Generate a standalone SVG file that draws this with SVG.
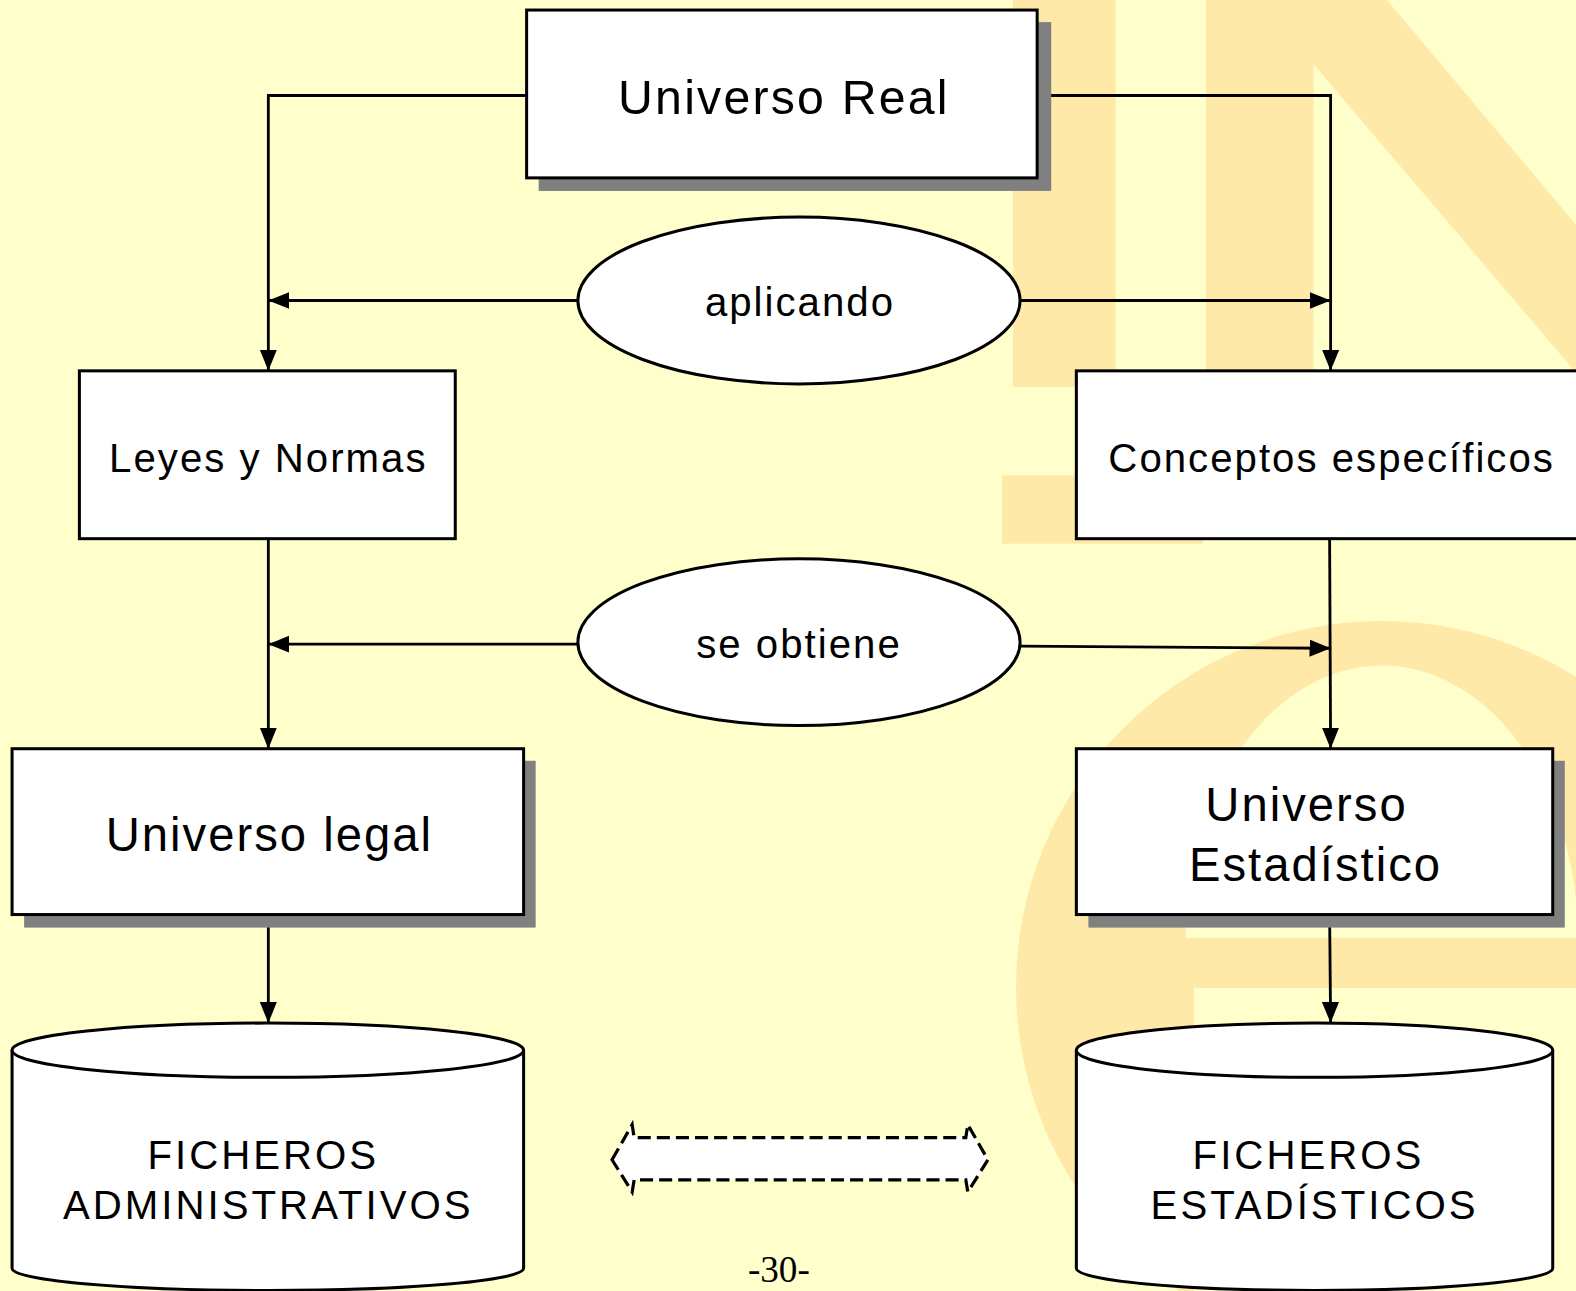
<svg xmlns="http://www.w3.org/2000/svg" width="1576" height="1291" viewBox="0 0 1576 1291">
<defs>
<style>
.bg{fill:#FFFFCC}
.wm{fill:#FFE9A8}
.box{fill:#FFFFFF;stroke:#000;stroke-width:3}
.shadow{fill:#808080}
.line{fill:none;stroke:#000;stroke-width:2.8}
.t{font-family:"Liberation Sans",Arial,sans-serif;fill:#000;text-anchor:middle}
.big{font-size:47px;letter-spacing:2px}
.real{font-size:48px;letter-spacing:2.2px}
.mid{font-size:40px;letter-spacing:2px}
.caps{font-size:40px;letter-spacing:3px}
</style>
<marker id="ah" markerUnits="userSpaceOnUse" markerWidth="24" markerHeight="20" refX="21" refY="8.5" orient="auto">
<path d="M0,0 L21,8.5 L0,17 z" fill="#000"/>
</marker>
</defs>
<rect class="bg" x="0" y="0" width="1576" height="1291"/>
<g id="page" transform="scale(1.005)">
<g id="watermark">
<rect class="wm" x="1008" y="0" width="102" height="385"/>
<polygon class="wm" points="1200,0 1380,0 1576,233 1576,380 1307,64 1307,370 1200,370"/>
<rect class="wm" x="997" y="473" width="200" height="68"/>
<circle class="wm" cx="1375" cy="982" r="364"/>
<path class="bg" d="M1180,933 A195,271 0 0 1 1570,933 Z"/>
<rect class="bg" x="1188" y="983" width="400" height="320"/>
</g>
<g id="connectors">
<path class="line" d="M524,95 H267 V369" marker-end="url(#ah)"/>
<path class="line" d="M1032,95 H1324 V369" marker-end="url(#ah)"/>
<path class="line" d="M575,299 H267" marker-end="url(#ah)"/>
<path class="line" d="M1015,299 H1324" marker-end="url(#ah)"/>
<path class="line" d="M267,536 V745" marker-end="url(#ah)"/>
<path class="line" d="M1323,536 L1324,745" marker-end="url(#ah)"/>
<path class="line" d="M575,641 H267" marker-end="url(#ah)"/>
<path class="line" d="M1015,643 L1324,645" marker-end="url(#ah)"/>
<path class="line" d="M267,910 V1018" marker-end="url(#ah)"/>
<path class="line" d="M1323,910 L1324,1018" marker-end="url(#ah)"/>
</g>
<g id="universo-real">
<rect class="shadow" x="536" y="22" width="510" height="168"/>
<rect class="box" x="524" y="10" width="508" height="167"/>
<text class="t real" x="780" y="113">Universo Real</text>
</g>
<g id="aplicando">
<ellipse class="box" cx="795" cy="299" rx="220" ry="83"/>
<text class="t mid" x="796" y="314">aplicando</text>
</g>
<g id="leyes-normas">
<rect class="box" x="79" y="369" width="374" height="167"/>
<text class="t mid" x="267" y="470">Leyes y Normas</text>
</g>
<g id="conceptos">
<rect class="box" x="1071" y="369" width="506" height="167"/>
<text class="t mid" x="1325" y="470">Conceptos específicos</text>
</g>
<g id="se-obtiene">
<ellipse class="box" cx="795" cy="639" rx="220" ry="83"/>
<text class="t mid" x="795" y="655">se obtiene</text>
</g>
<g id="universo-legal">
<rect class="shadow" x="24" y="757" width="509" height="166"/>
<rect class="box" x="12" y="745" width="509" height="165"/>
<text class="t big" x="268" y="847">Universo legal</text>
</g>
<g id="universo-estadistico">
<rect class="shadow" x="1083" y="757" width="474" height="166"/>
<rect class="box" x="1071" y="745" width="474" height="165"/>
<text class="t big" x="1300" y="817">Universo</text>
<text class="t big" x="1309" y="877">Estadístico</text>
</g>
<g id="ficheros-administrativos">
<path class="box" d="M12,1045 V1262 A254.5,22 0 0 0 521,1262 V1045"/>
<ellipse class="box" cx="266.5" cy="1045" rx="254.5" ry="27"/>
<text class="t caps" x="262" y="1163">FICHEROS</text>
<text class="t caps" x="267" y="1213">ADMINISTRATIVOS</text>
</g>
<g id="ficheros-estadisticos">
<path class="box" d="M1071,1045 V1262 A237,22 0 0 0 1545,1262 V1045"/>
<ellipse class="box" cx="1308" cy="1045" rx="237" ry="27"/>
<text class="t caps" x="1302" y="1163">FICHEROS</text>
<text class="t caps" x="1308" y="1213">ESTADÍSTICOS</text>
</g>
<g id="double-arrow">
<polygon points="609,1154 629,1119 631,1132 961,1132 963,1119 983,1154 963,1186 961,1174 631,1174 629,1186" fill="#FFFFFF" stroke="#000" stroke-width="3.2" stroke-dasharray="13,6"/>
</g>
<text x="775" y="1276" font-family="'Liberation Serif','Times New Roman',serif" font-size="37" text-anchor="middle" fill="#000">-30-</text>
</g>
</svg>
